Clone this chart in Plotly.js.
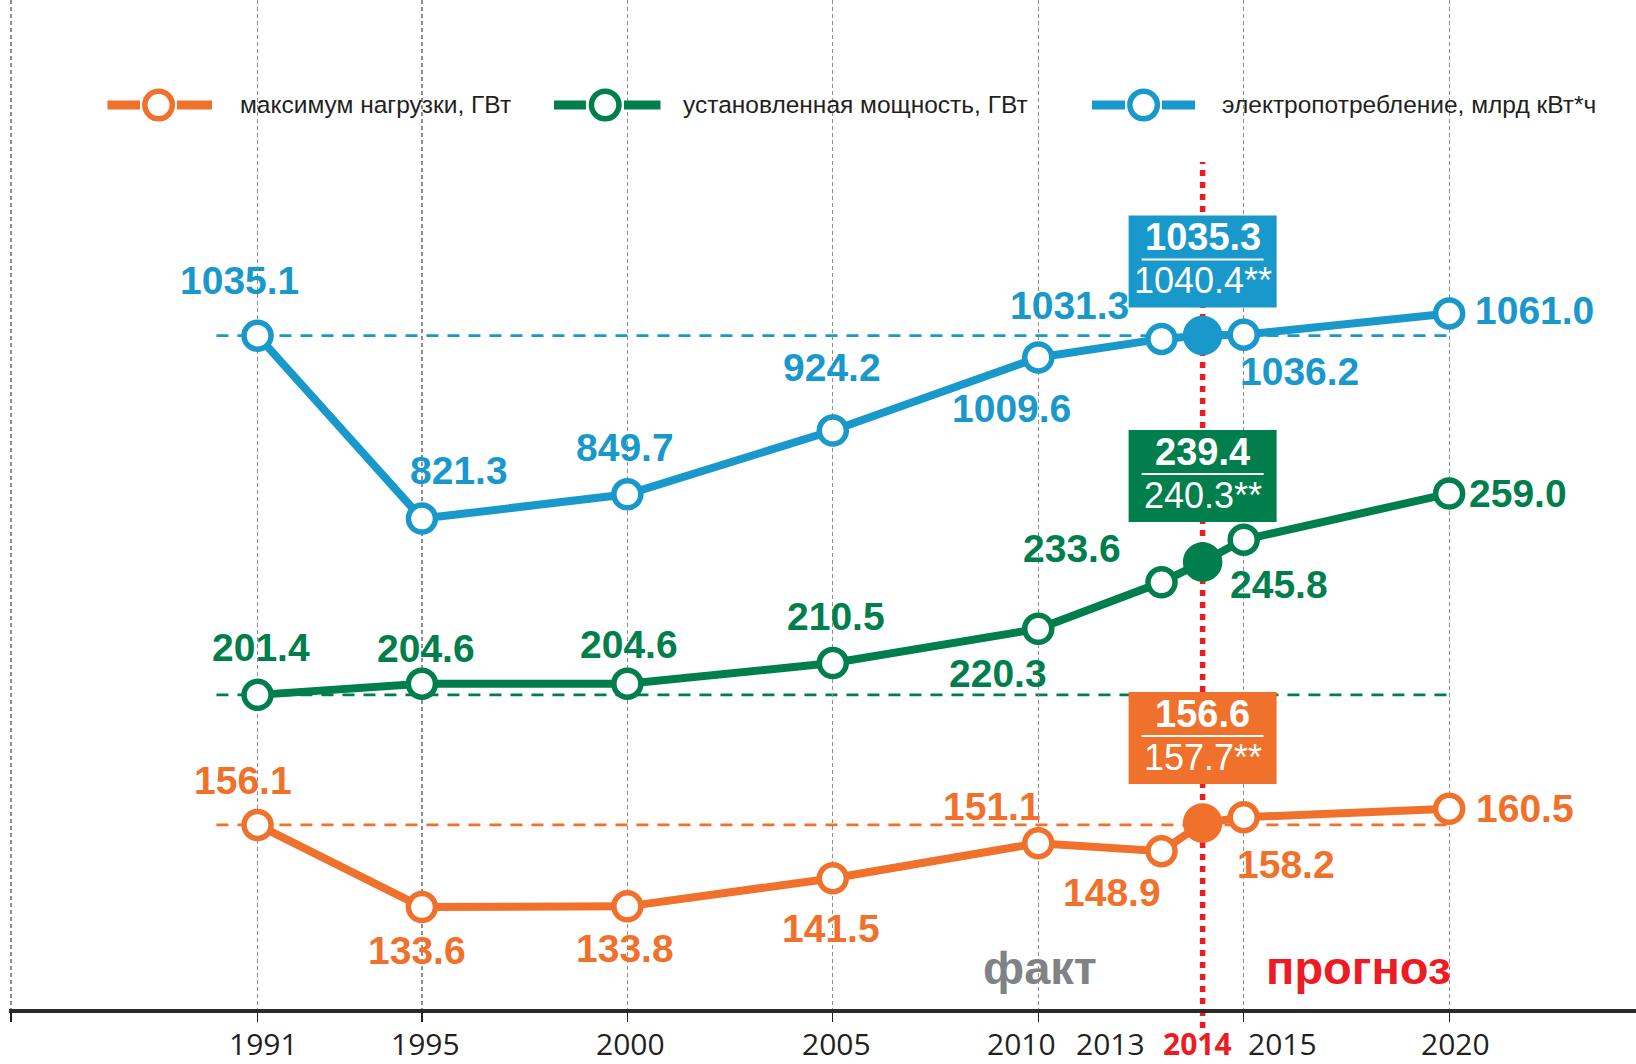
<!DOCTYPE html>
<html><head><meta charset="utf-8">
<script src="https://cdn.plot.ly/plotly-3.0.1.min.js"></script>
<style>html,body{margin:0;padding:0;background:#fff}#chart{width:1636px;height:1064px}</style>
</head><body><div id="chart"></div>
<script>
// ---------------- data ----------------
const years = [1991, 1995, 2000, 2005, 2010, 2013, 2014, 2015, 2020];
const peakLoad = [156.1, 133.6, 133.8, 141.5, 151.1, 148.9, 156.6, 158.2, 160.5];
const peakLoadAlt2014 = 157.7;
const capacity = [201.4, 204.6, 204.6, 210.5, 220.3, 233.6, 239.4, 245.8, 259.0];
const capacityAlt2014 = 240.3;
const consumption = [1035.1, 821.3, 849.7, 924.2, 1009.6, 1031.3, 1035.3, 1036.2, 1061.0];
const consumptionAlt2014 = 1040.4;
const seriesNames = ['максимум нагрузки, ГВт', 'установленная мощность, ГВт', 'электропотребление, млрд кВт*ч'];
const gridYears = [1985, 1991, 1995, 2000, 2005, 2010, 2015, 2020];
const yearLabels = ['1991', '1995', '2000', '2005', '2010', '2013', '2014', '2015', '2020'];
const highlightYear = 2014;
const factLabel = 'факт';
const forecastLabel = 'прогноз';

// ---------------- style / layout ----------------
const C = {orange:'#F0712B', green:'#007E4B', blue:'#1898CB', red:'#ED1C24', gray:'#808285', ink:'#231F20'};
const SANS = "'Liberation Sans', Arial, sans-serif";
const AXISFONT = "'Open Sans', sans-serif";
const W = 1636, H = 1064, M = {l:9, r:0, t:0, b:55};
const PW = W - M.l, PH = H - M.b;
const px = x => (x - M.l) / PW;
const py = y => 1 - y / PH;

const series = [
  {name: seriesNames[0], values: peakLoad, alt: peakLoadAlt2014, color: C.orange, axis: 'y',
   off: [[-15,-44],[-5,43],[-2,42],[-2,50],[-46,-37],[-50,41],null,[42,47],[76,0]],
   box: {b:39, t:131}, lg: {a:107.5, b:140, c:158.6, d:177, e:212, t:238}},
  {name: seriesNames[1], values: capacity, alt: capacityAlt2014, color: C.green, axis: 'y2',
   off: [[3,-47],[4,-35],[2,-39],[3,-47],[-40,45],[-90,-34],null,[35,45],[69,0]],
   box: {b:40, t:132}, lg: {a:554, b:586, c:605.2, d:624, e:660.5, t:681}},
  {name: seriesNames[2], values: consumption, alt: consumptionAlt2014, color: C.blue, axis: 'y3',
   off: [[-18,-55],[37,-48],[-2,-47],[-1,-63],[-27,51],[-92,-33],null,[56,37],[85,-3]],
   box: {b:28, t:120}, lg: {a:1092, b:1125, c:1143.6, d:1162, e:1195, t:1220}}
];
const hi = years.indexOf(highlightYear);

const traces = series.map(s => ({
  type: 'scatter', mode: 'lines+markers', x: years, y: s.values, yaxis: s.axis,
  line: {color: s.color, width: 8},
  marker: {symbol: 'circle', opacity: 1,
    size: years.map(y => y === highlightYear ? 34 : 27),
    color: years.map(y => y === highlightYear ? s.color : '#ffffff'),
    line: {color: s.color, width: 5.5}},
  hoverinfo: 'skip', showlegend: false, cliponaxis: false
}));

const shapes = [];
const annotations = [];

// red "today" line
shapes.push({type:'line', xref:'x', yref:'paper', x0:highlightYear, x1:highlightYear,
  y0:py(1028), y1:py(162), line:{color:C.red, width:5.5, dash:'6px,6px'}, layer:'below'});

series.forEach(s => {
  // dashed reference line at the 1991 level
  shapes.push({type:'line', xref:'x', yref:s.axis, x0:1990, x1:2020, y0:s.values[0], y1:s.values[0],
    line:{color:s.color, width:2.8, dash:'12px,9px'}, layer:'below'});
  // value labels
  s.values.forEach((v, i) => {
    if (i === hi) return;
    const o = s.off[i];
    annotations.push({x:years[i], y:v, xref:'x', yref:s.axis, text:'<b>' + v.toFixed(1) + '</b>',
      showarrow:false, xshift:o[0], yshift:-o[1], xanchor:'center', yanchor:'middle',
      font:{family:SANS, size:39, color:s.color}});
  });
  // highlight box for the reference year
  const v = s.values[hi];
  shapes.push({type:'rect', xref:'x', yref:s.axis, xsizemode:'pixel', ysizemode:'pixel',
    xanchor:highlightYear, yanchor:v, x0:-74, x1:74, y0:s.box.b, y1:s.box.t,
    fillcolor:s.color, line:{width:0}, layer:'above'});
  shapes.push({type:'line', xref:'x', yref:s.axis, xsizemode:'pixel', ysizemode:'pixel',
    xanchor:highlightYear, yanchor:v, x0:-61, x1:61, y0:s.box.t-44, y1:s.box.t-44,
    line:{color:'#ffffff', width:2}, layer:'above'});
  annotations.push({x:highlightYear, y:v, xref:'x', yref:s.axis, text:'<b>' + v.toFixed(1) + '</b>',
    showarrow:false, yshift:s.box.t-22, xanchor:'center', yanchor:'middle', borderpad:0,
    font:{family:SANS, size:38, color:'#ffffff'}});
  annotations.push({x:highlightYear, y:v, xref:'x', yref:s.axis, text:s.alt.toFixed(1) + '**',
    showarrow:false, yshift:s.box.t-65, xanchor:'center', yanchor:'middle', borderpad:0,
    font:{family:SANS, size:36, color:'#ffffff'}});
  // custom legend
  const ly = py(105);
  shapes.push({type:'line', xref:'paper', yref:'paper', x0:px(s.lg.a), x1:px(s.lg.b), y0:ly, y1:ly,
    line:{color:s.color, width:9}, layer:'above'});
  shapes.push({type:'line', xref:'paper', yref:'paper', x0:px(s.lg.d), x1:px(s.lg.e), y0:ly, y1:ly,
    line:{color:s.color, width:9}, layer:'above'});
  shapes.push({type:'circle', xref:'paper', yref:'paper', xsizemode:'pixel', ysizemode:'pixel',
    xanchor:px(s.lg.c), yanchor:ly, x0:-13.75, x1:13.75, y0:-13.75, y1:13.75,
    fillcolor:'#ffffff', line:{color:s.color, width:5.5}, layer:'above'});
  annotations.push({xref:'paper', yref:'paper', x:px(s.lg.t), y:ly, xanchor:'left', yanchor:'middle',
    text:s.name, showarrow:false, font:{family:SANS, size:24.5, color:C.ink}});
});

// year labels (spread around the dense 2010-2015 stretch, as in the original)
const labelShift = {1991:6, 1995:4, 2000:3, 2005:3.5, 2010:-17, 2013:-51, 2014:-5, 2015:39, 2020:6};
years.forEach((y, i) => {
  const isHi = y === highlightYear;
  annotations.push({x:y, y:0, xref:'x', yref:'paper', yanchor:'middle', xanchor:'center',
    xshift:labelShift[y], yshift:-34, showarrow:false, borderpad:0,
    text: isHi ? '<b>' + yearLabels[i] + '</b>' : yearLabels[i],
    font:{family:AXISFONT, size:30, color: isHi ? C.red : C.ink}});
});

annotations.push({xref:'paper', yref:'paper', x:px(1040), y:py(967), xanchor:'center', yanchor:'middle',
  text:'<b>' + factLabel + '</b>', showarrow:false, font:{family:SANS, size:47, color:C.gray}});
annotations.push({xref:'paper', yref:'paper', x:px(1358.5), y:py(967), xanchor:'center', yanchor:'middle',
  text:'<b>' + forecastLabel + '</b>', showarrow:false, font:{family:SANS, size:47, color:C.red}});

const layout = {
  width: W, height: H, margin: M, paper_bgcolor:'#ffffff', plot_bgcolor:'#ffffff',
  showlegend: false,
  xaxis: {range:[1984.951, 2024.547], tickmode:'array', tickvals:gridYears, showticklabels:false,
    ticks:'outside', ticklen:9, tickwidth:1.3, tickcolor:C.ink,
    showline:true, linewidth:4, linecolor:'#2B2A29',
    showgrid:true, gridcolor:'#8f8f8f', gridwidth:1.2, griddash:'4px,3px', zeroline:false, fixedrange:true},
  yaxis:  {range:[105.69, 381.99], visible:false, fixedrange:true},
  yaxis2: {range:[111.53, 400.20], overlaying:'y', visible:false, fixedrange:true},
  yaxis3: {range:[248.10, 1427.40], overlaying:'y', visible:false, fixedrange:true},
  shapes: shapes, annotations: annotations
};

Plotly.newPlot('chart', traces, layout, {staticPlot:true, displayModeBar:false});
</script>
</body></html>
